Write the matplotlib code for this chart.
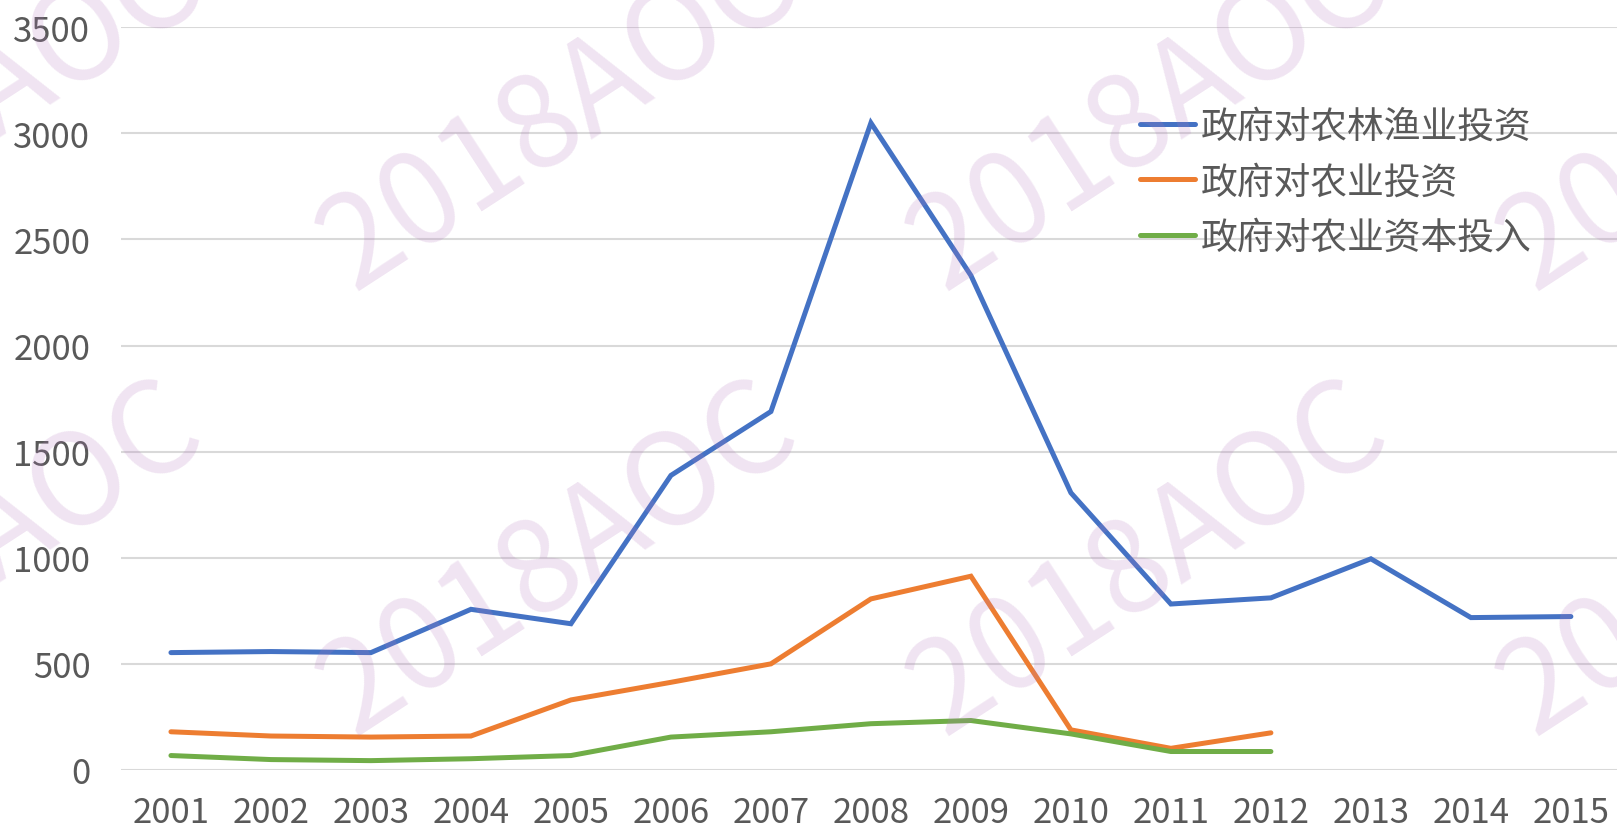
import matplotlib
matplotlib.use('Agg')
import matplotlib.pyplot as plt

plt.rcParams['font.family'] = ['Noto Sans CJK SC', 'DejaVu Sans']

# 数据
years = ['2001', '2002', '2003', '2004', '2005', '2006', '2007', '2008',
         '2009', '2010', '2011', '2012', '2013', '2014', '2015']
forest_fish = [553, 558, 553, 757, 689, 1388, 1689, 3049, 2330, 1306, 782, 811, 995, 718, 723]
agri_invest = [180, 160, 155, 160, 330, 413, 500, 806, 913, 189, 102, 175]
agri_capital = [68, 49, 44, 53, 68, 155, 180, 218, 233, 170, 87, 87]

labels = ['政府对农林渔业投资', '政府对农业投资', '政府对农业资本投入']
colors = ['#4472C4', '#ED7D31', '#70AD47']
yticks = [0, 500, 1000, 1500, 2000, 2500, 3000, 3500]

fig = plt.figure(figsize=(16.17, 8.29), dpi=100)
ax = fig.add_axes([0.0748, 0.07, 0.9276, 0.896])

series = [forest_fish, agri_invest, agri_capital]
for vals, lab, col in zip(series, labels, colors):
    ax.plot(range(len(vals)), vals, color=col, linewidth=3.6, label=lab,
            solid_capstyle='round', solid_joinstyle='miter', zorder=3)

ax.set_xlim(-0.5, len(years) - 0.5)
ax.set_ylim(0, 3500)
ax.set_xticks(range(len(years)))
ax.set_xticklabels(years)
ax.set_yticks(yticks)
ax.yaxis.grid(True, color='#D9D9D9', linewidth=1.5)
ax.set_axisbelow(True)
for s in ax.spines.values():
    s.set_visible(False)
ax.tick_params(axis='both', length=0, labelsize=25, labelcolor='#595959')
ax.tick_params(axis='y', pad=22)
ax.tick_params(axis='x', pad=18)

leg = ax.legend(loc='upper left', bbox_to_anchor=(1140 / 1617, 1 - 108 / 829),
                bbox_transform=fig.transFigure, frameon=False,
                fontsize=26.5, handlelength=1.5, handletextpad=0.15,
                labelspacing=0.44, borderpad=0, borderaxespad=0)
for t in leg.get_texts():
    t.set_color('#595959')

# 水印
wm_x = [-35, 560, 1150, 1740]
wm_y = [115, 560]
for wx in wm_x:
    for wy in wm_y:
        fig.text(wx / 1617, 1 - wy / 829, '2018AOC', fontsize=92, rotation=33,
                 color='#B478BE', alpha=0.2, ha='center', va='center',
                 zorder=5)

fig.savefig('out.png', dpi=100)
